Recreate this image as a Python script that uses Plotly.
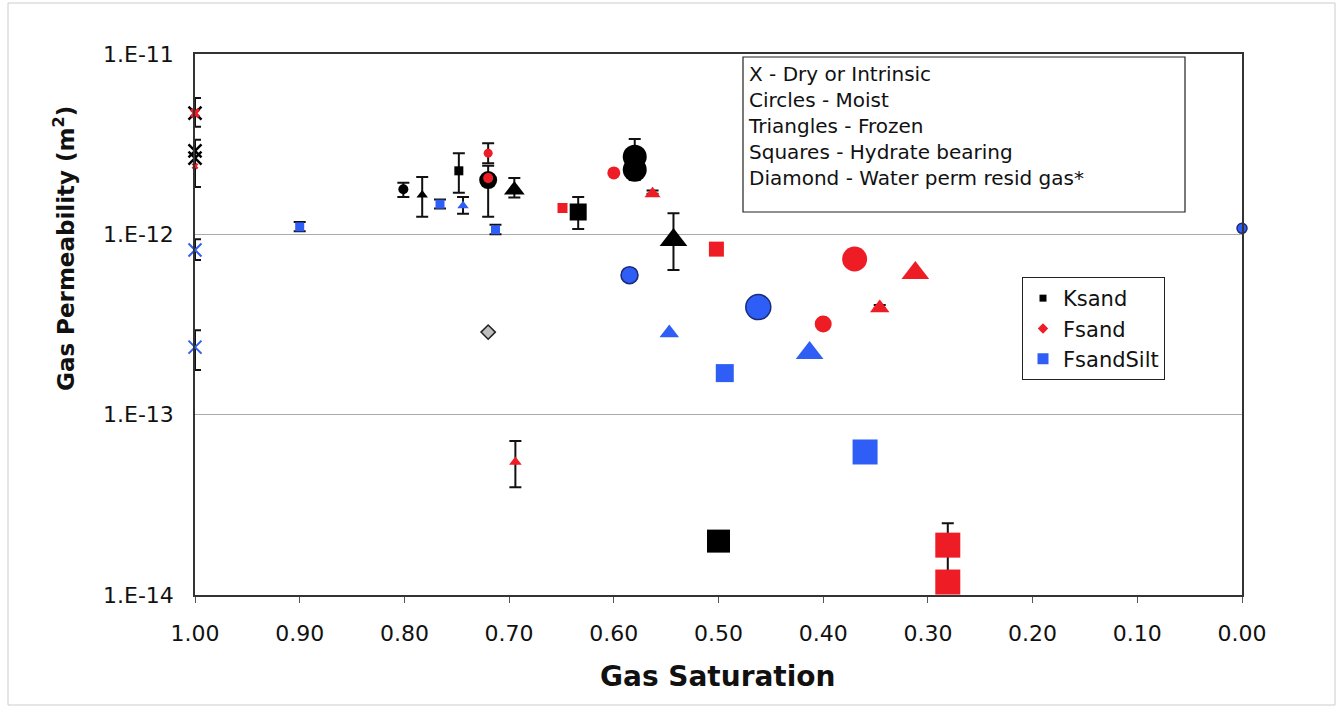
import numpy as np
import plotly.graph_objects as go

nan = np.nan

# ---------------- data ----------------
sat_ticks = [1.0, 0.9, 0.8, 0.7, 0.6, 0.5, 0.4, 0.3, 0.2, 0.1, 0.0]
sat_tick_text = ["1.00", "0.90", "0.80", "0.70", "0.60", "0.50", "0.40", "0.30", "0.20", "0.10", "0.00"]
k_ticks = [1e-14, 1e-13, 1e-12, 1e-11]
k_tick_text = ["1.E-14", "1.E-13", "1.E-12", "1.E-11"]

box_lines = ["X - Dry or Intrinsic", "Circles - Moist", "Triangles - Frozen",
             "Squares - Hydrate bearing", "Diamond - Water perm resid gas*"]
series_names = ["Ksand", "Fsand", "FsandSilt"]
x_title = "Gas Saturation"
y_title = "Gas Permeability (m<sup>2</sup>)"

# Ksand (black)
ks_dry_sat = [1.00, 1.00, 1.00]
ks_dry_k = [4.7e-12, 2.9e-12, 2.65e-12]
ks_dry_hi = [5.7e-12, 3.35e-12, nan]
ks_dry_lo = [3.95e-12, 1.83e-12, nan]

ks_moist_sat = [0.801, 0.720, 0.580, 0.580]
ks_moist_k = [1.78e-12, 2.0e-12, 2.69e-12, 2.28e-12]
ks_moist_hi = [1.93e-12, 2.4e-12, 3.38e-12, 2.28e-12]
ks_moist_lo = [1.61e-12, 1.25e-12, 2.69e-12, 2.0e-12]

ks_frozen_sat = [0.783, 0.695, 0.543]
ks_frozen_k = [1.65e-12, 1.76e-12, 9.3e-13]
ks_frozen_hi = [2.08e-12, 2.05e-12, 1.31e-12]
ks_frozen_lo = [1.25e-12, 1.6e-12, 6.34e-13]

ks_hyd_sat = [0.748, 0.634, 0.500]
ks_hyd_k = [2.25e-12, 1.33e-12, 1.99e-14]
ks_hyd_hi = [2.82e-12, 1.61e-12, nan]
ks_hyd_lo = [1.7e-12, 1.07e-12, nan]

resid_sat = [0.720]
resid_k = [2.87e-13]

# Fsand (red)
fs_dry_sat = [1.00, 1.00]
fs_dry_k = [4.7e-12, 2.39e-12]

fs_moist_sat = [0.720, 0.720, 0.600, 0.370, 0.400]
fs_moist_k = [2.82e-12, 2.05e-12, 2.19e-12, 7.3e-13, 3.18e-13]
fs_moist_hi = [3.2e-12, nan, nan, nan, nan]
fs_moist_lo = [2.48e-12, nan, nan, nan, nan]

fs_frozen_sat = [0.563, 0.694, 0.312, 0.346]
fs_frozen_k = [1.68e-12, 5.46e-14, 6.1e-13, 3.9e-13]
fs_frozen_hi = [1.75e-12, 7.14e-14, nan, 4.05e-13]
fs_frozen_lo = [1.68e-12, 3.96e-14, nan, 3.9e-13]

fs_hyd_sat = [0.649, 0.502, 0.281, 0.281]
fs_hyd_k = [1.4e-12, 8.28e-13, 1.89e-14, 1.18e-14]
fs_hyd_hi = [nan, nan, 2.5e-14, nan]
fs_hyd_lo = [nan, nan, 1.18e-14, nan]

# FsandSilt (blue)
fss_dry_sat = [1.00, 1.00]
fss_dry_k = [8.18e-13, 2.37e-13]
fss_dry_hi = [9.4e-13, 2.94e-13]
fss_dry_lo = [7.2e-13, 1.77e-13]

fss_moist_sat = [0.585, 0.462, 0.000]
fss_moist_k = [5.94e-13, 3.95e-13, 1.08e-12]

fss_frozen_sat = [0.744, 0.547, 0.413]
fss_frozen_k = [1.44e-12, 2.84e-13, 2.2e-13]
fss_frozen_hi = [1.61e-12, nan, nan]
fss_frozen_lo = [1.3e-12, nan, nan]

fss_hyd_sat = [0.900, 0.766, 0.713, 0.494, 0.360]
fss_hyd_k = [1.1e-12, 1.47e-12, 1.06e-12, 1.7e-13, 6.21e-14]
fss_hyd_hi = [1.17e-12, 1.56e-12, 1.13e-12, nan, nan]
fss_hyd_lo = [1.04e-12, 1.39e-12, 1.0e-12, nan, nan]

# ---------------- styles ----------------
FONT = "DejaVu Sans"
BLACK = "#000000"
RED = "#EE1D25"
BLUE = "#2E5EF5"
GRAY = "#BEBEBE"

ks_dry_size = [13, 13, 13]
ks_moist_size = [10, 18, 24, 24]
ks_frozen_size = [10, 18, 24]
ks_hyd_size = [9, 17, 23]
fs_dry_size = [9, 6]
fs_moist_size = [9, 10, 13, 25, 17]
fs_frozen_size = [14, 11, 24, 17]
fs_hyd_size = [10, 15, 25, 25]
fss_dry_size = [13, 13]
fss_moist_size = [17, 25, 10]
fss_frozen_size = [10, 17, 24]
fss_hyd_size = [9, 9, 9, 18, 25]


def err(k, hi, lo):
    k = np.array(k, dtype=float)
    up = np.array(hi, dtype=float) - k
    dn = k - np.array(lo, dtype=float)
    return dict(type="data", symmetric=False, array=up, arrayminus=dn,
                color="#111111", thickness=2, width=6)


fig = go.Figure()


def add(sat, k, size, symbol, color, hi=None, lo=None, line_color=None, line_width=0):
    kw = {}
    if hi is not None:
        kw["error_y"] = err(k, hi, lo)
    fig.add_trace(go.Scatter(
        x=sat, y=k, mode="markers", showlegend=False, cliponaxis=False,
        marker=dict(symbol=symbol, size=size, color=color, opacity=1,
                    line=dict(color=line_color or color, width=line_width)),
        hoverinfo="x+y", **kw))


# dry / intrinsic
add(ks_dry_sat, ks_dry_k, ks_dry_size, "x-thin-open", BLACK, ks_dry_hi, ks_dry_lo, BLACK, 2.5)
add(fs_dry_sat, fs_dry_k, fs_dry_size, "x", RED)
add(fss_dry_sat, fss_dry_k, fss_dry_size, "x-thin-open", BLUE, fss_dry_hi, fss_dry_lo, BLUE, 2)
# moist
add(ks_moist_sat, ks_moist_k, ks_moist_size, "circle", BLACK, ks_moist_hi, ks_moist_lo)
add(fs_moist_sat, fs_moist_k, fs_moist_size, "circle", RED, fs_moist_hi, fs_moist_lo)
add(fss_moist_sat, fss_moist_k, fss_moist_size, "circle", BLUE, line_color="#1A2A7A", line_width=1.5)
# frozen
add(ks_frozen_sat, ks_frozen_k, ks_frozen_size, "triangle-up", BLACK, ks_frozen_hi, ks_frozen_lo)
add(fs_frozen_sat, fs_frozen_k, fs_frozen_size, "triangle-up", RED, fs_frozen_hi, fs_frozen_lo)
add(fss_frozen_sat, fss_frozen_k, fss_frozen_size, "triangle-up", BLUE, fss_frozen_hi, fss_frozen_lo)
# hydrate bearing
add(fs_hyd_sat, fs_hyd_k, fs_hyd_size, "square", RED, fs_hyd_hi, fs_hyd_lo)
add(ks_hyd_sat, ks_hyd_k, ks_hyd_size, "square", BLACK, ks_hyd_hi, ks_hyd_lo)
add(fss_hyd_sat, fss_hyd_k, fss_hyd_size, "square", BLUE, fss_hyd_hi, fss_hyd_lo)
# water perm residual gas
add(resid_sat, resid_k, [11], "diamond", GRAY, line_color="#222222", line_width=1.5)

# legend entries
for name, sym, col, sz in zip(series_names, ["square", "diamond", "square"],
                              [BLACK, RED, BLUE], [7, 8, 11]):
    fig.add_trace(go.Scatter(x=[None], y=[None], mode="markers", name=name,
                             marker=dict(symbol=sym, size=sz, color=col)))

W, H = 1341, 710
L, R, T, B = 195, 99, 54, 115
pw, ph = W - L - R, H - T - B


def px(xp):
    return (xp - L) / pw


def py(yp):
    return 1 - (yp - T) / ph


fig.update_layout(
    width=W, height=H,
    margin=dict(l=L, r=R, t=T, b=B),
    paper_bgcolor="white", plot_bgcolor="white",
    font=dict(family=FONT, color="#111111"),
    legend=dict(x=px(1022), y=py(277), xanchor="left", yanchor="top",
                bordercolor="#222222", borderwidth=1, bgcolor="white",
                font=dict(size=21, family=FONT, color="#111111"),
                itemwidth=30, tracegroupgap=0),
    xaxis=dict(range=[1.0, 0.0], tickvals=sat_ticks, ticktext=sat_tick_text,
               ticks="outside", ticklen=6, tickcolor="#555555", tickwidth=1,
               showline=True, mirror=True, linecolor="#333333", linewidth=1.5,
               showgrid=False, zeroline=False, tickfont=dict(size=22),
               ticklabelstandoff=12),
    yaxis=dict(type="log", range=[-14, -11], tickvals=k_ticks, ticktext=k_tick_text,
               ticks="", showline=True, mirror=True, linecolor="#333333", linewidth=1.5,
               showgrid=True, gridcolor="#AAAAAA", gridwidth=1, zeroline=False,
               tickfont=dict(size=22), ticklabelstandoff=15),
    shapes=[
        dict(type="rect", xref="paper", yref="paper", x0=px(743), x1=px(1185),
             y0=py(212), y1=py(57), line=dict(color="#222222", width=1.2)),
        dict(type="rect", xref="paper", yref="paper", x0=px(8), x1=px(1335),
             y0=py(705), y1=py(3), line=dict(color="#CCCCCC", width=1)),
    ],
    annotations=[
        dict(xref="paper", yref="paper", x=px(746), y=py(60), xanchor="left", yanchor="top",
             align="left", showarrow=False, text="<br>".join(box_lines),
             font=dict(size=20, family=FONT, color="#111111")),
        dict(xref="paper", yref="paper", x=px(718), y=py(676), xanchor="center", yanchor="middle",
             showarrow=False, text=x_title,
             font=dict(size=28, family=FONT, weight="bold", color="#111111")),
        dict(xref="paper", yref="paper", x=px(64), y=py(249), xanchor="center", yanchor="middle",
             showarrow=False, text=y_title, textangle=-90,
             font=dict(size=23, family=FONT, weight="bold", color="#111111")),
    ],
)

fig.write_html("out.html", config={"displayModeBar": False},
               post_script="document.body.style.margin='0px';")
